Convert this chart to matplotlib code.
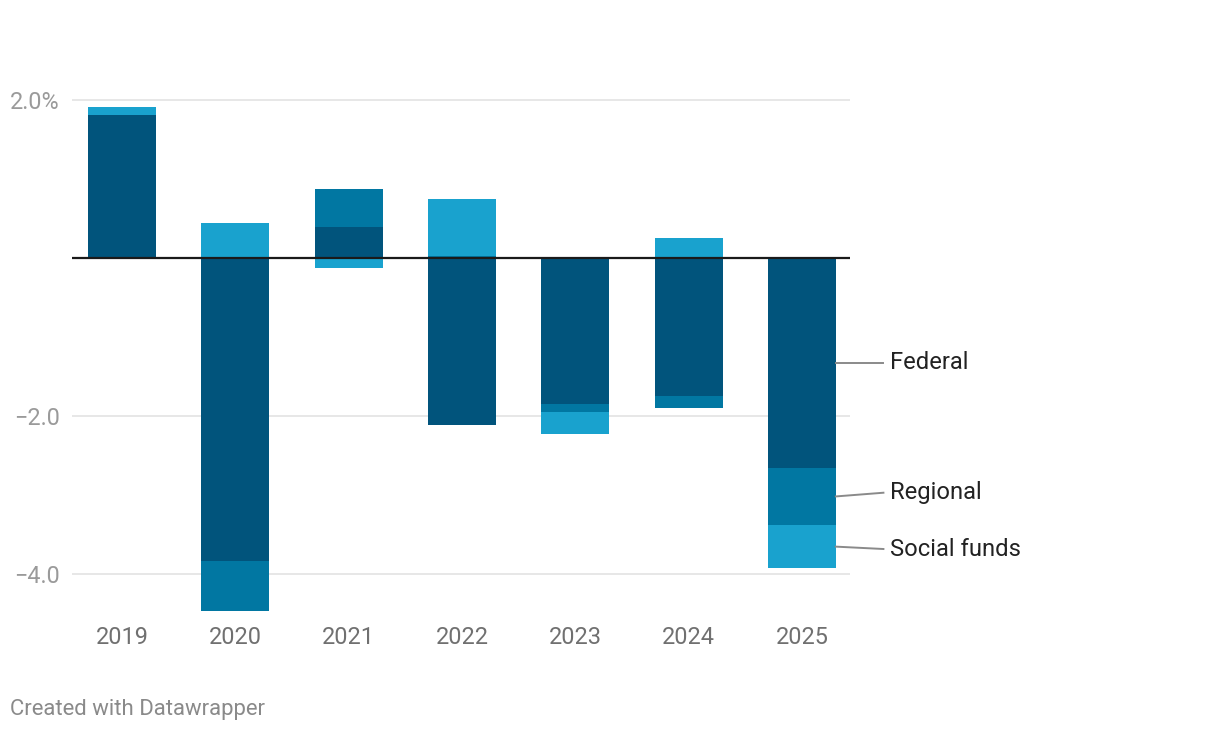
import matplotlib
matplotlib.use("Agg")
import matplotlib.pyplot as plt
import numpy as np

years = ["2019", "2020", "2021", "2022", "2023", "2024", "2025"]
federal = [1.81, -3.83, 0.39, -2.11, -1.84, -1.74, -2.65]
regional = [0.0, -0.63, 0.49, 0.03, -0.11, -0.15, -0.73]
social_funds = [0.10, 0.44, -0.13, 0.72, -0.28, 0.26, -0.54]

series_names = ["Federal", "Regional", "Social funds"]
series_colors = ["#01547c", "#0177a2", "#19a2ce"]
ytick_vals = [2.0, -2.0, -4.0]
ytick_labels = ["2.0%", "\u22122.0", "\u22124.0"]

plt.rcParams['font.family'] = ['Roboto', 'DejaVu Sans']

W, H = 1220, 732
fig = plt.figure(figsize=(W / 100, H / 100), dpi=100)
ylim = (-4.6, 2.3)
y0pix, scale = 258.1, 79.05
top_pix = y0pix - scale * ylim[1]
bot_pix = y0pix - scale * ylim[0]
ax = fig.add_axes([72 / W, 1 - bot_pix / H, (850 - 72) / W, (bot_pix - top_pix) / H])

x = np.arange(len(years))
pos_base = np.zeros(len(years))
neg_base = np.zeros(len(years))
segments = []
for name, vals, col in zip(series_names, [federal, regional, social_funds], series_colors):
    vals = np.array(vals)
    bottoms = np.where(vals >= 0, pos_base, neg_base)
    ax.bar(x, vals, bottom=bottoms, width=0.6, color=col, linewidth=0, zorder=2)
    segments.append(bottoms + vals / 2)
    pos_base = pos_base + np.where(vals >= 0, vals, 0)
    neg_base = neg_base + np.where(vals < 0, vals, 0)

for v in ytick_vals:
    ax.axhline(v, color="#e3e3e3", lw=1.2, zorder=0)
ax.axhline(0, color="#1a1a1a", lw=1.6, zorder=3)

ax.set_xlim(-0.441, 6.425)
ax.set_ylim(*ylim)
ax.set_yticks(ytick_vals)
ax.set_yticklabels(ytick_labels)
ax.set_xticks(x)
ax.set_xticklabels(years)
ax.tick_params(axis='y', length=0, pad=9, labelsize=16.8, labelcolor="#9a9a9a")
ax.tick_params(axis='x', length=0, pad=3, labelsize=16.9, labelcolor="#707070")
for s in ax.spines.values():
    s.set_visible(False)

# direct labels for last bar
label_y = [-1.325, -2.968, -3.68]
last = len(years) - 1
for name, seg, ly in zip(series_names, segments, label_y):
    x_start = last + 0.3
    ax.plot([x_start, x_start + 0.42], [seg[last], ly], color="#8a8a8a", lw=1.4,
            clip_on=False, zorder=4)
    ax.text(x_start + 0.475, ly, name, fontsize=17.1, color="#222222",
            va="center", ha="left", clip_on=False)

fig.text(10 / W, 1 - 710 / H, "Created with Datawrapper", fontsize=15.9,
         color="#8a8a8a", ha="left", va="center")

fig.savefig("out.png", dpi=100)
